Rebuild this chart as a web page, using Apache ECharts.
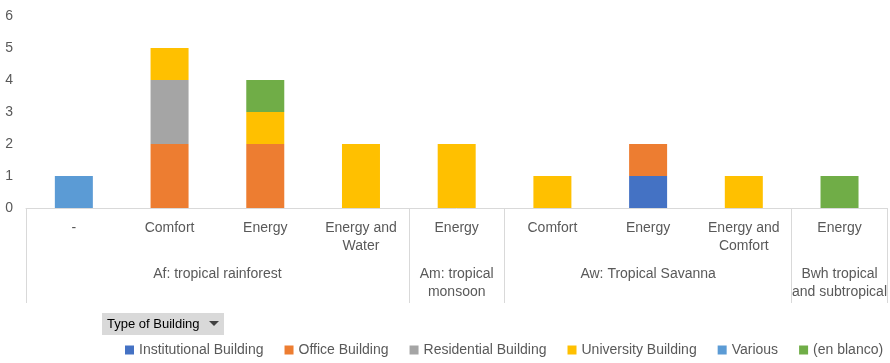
<!DOCTYPE html>
<html><head><meta charset="utf-8">
<script src="https://cdn.jsdelivr.net/npm/echarts@6/dist/echarts.min.js"></script>
<style>html,body{margin:0;padding:0;background:#fff}#c{width:890px;height:363px}</style>
</head><body><div id="c"></div>
<script>
const categories = ["-", "Comfort", "Energy", "Energy and\nWater", "Energy", "Comfort", "Energy", "Energy and\nComfort", "Energy"];
const groupLabels = ["Af: tropical rainforest", "Am: tropical\nmonsoon", "Aw: Tropical Savanna", "Bwh tropical\nand subtropical"];
const groupCenters = [2, 4.5, 6.5, 8.5];
const groupBounds = [0, 4, 5, 8, 9];
const yTicks = [0, 1, 2, 3, 4, 5, 6];
const institutional = [null, null, null, null, null, null, 1, null, null];
const office = [null, 2, 2, null, null, null, 1, null, null];
const residential = [null, 2, null, null, null, null, null, null, null];
const university = [null, 1, 1, 2, 2, 1, null, 1, null];
const various = [1, null, null, null, null, null, null, null, null];
const enBlanco = [null, null, 1, null, null, null, null, null, 1];

const FONT = 'Liberation Sans';
const TXT = '#595959';
const chart = echarts.init(document.getElementById('c'), null, {renderer: 'canvas'});
function s(name, data, color) {
  return {name, type: 'bar', stack: 'total', data, barWidth: 38, itemStyle: {color}, xAxisIndex: 0};
}
chart.setOption({
  animation: false,
  textStyle: {fontFamily: FONT},
  grid: {left: 26, right: 2, top: 16, bottom: 155, containLabel: false},
  legend: {
    top: 338, left: 120, width: 770, padding: 5, itemWidth: 9, itemHeight: 9, itemGap: 21, icon: 'rect',
    textStyle: {color: TXT, fontSize: 14, fontFamily: FONT},
    data: ['Institutional Building', 'Office Building', 'Residential Building', 'University Building', 'Various', '(en blanco)']
  },
  xAxis: [{
    type: 'category', data: categories,
    axisLine: {lineStyle: {color: '#d9d9d9'}},
    axisTick: {show: false},
    axisLabel: {color: TXT, fontSize: 14, fontFamily: FONT, margin: 11, lineHeight: 18, interval: 0}
  }, {
    type: 'value', min: 0, max: 9, position: 'bottom',
    axisLine: {show: false},
    splitLine: {show: false},
    axisTick: {show: true, customValues: groupBounds, length: 95, lineStyle: {color: '#d9d9d9'}},
    axisLabel: {customValues: groupCenters, color: TXT, fontSize: 14, fontFamily: FONT, margin: 57, lineHeight: 18,
      formatter: function (v) { const i = groupCenters.indexOf(v); return i >= 0 ? groupLabels[i] : ''; }}
  }],
  yAxis: {
    type: 'value', min: yTicks[0], max: yTicks[yTicks.length - 1], interval: 1,
    splitLine: {show: false}, axisLine: {show: false}, axisTick: {show: false},
    axisLabel: {color: TXT, fontSize: 14, fontFamily: FONT, margin: 13}
  },
  graphic: [{
    type: 'group', left: 102, top: 313,
    children: [
      {type: 'rect', shape: {x: 0, y: 0, width: 122, height: 22}, style: {fill: '#d9d9d9'}},
      {type: 'text', x: 5, y: 11, style: {text: 'Type of Building', fill: '#000', font: '13px Liberation Sans', verticalAlign: 'middle'}},
      {type: 'polygon', shape: {points: [[107, 8], [117, 8], [112, 13]]}, style: {fill: '#404040'}}
    ]
  }],
  series: [
    s('Institutional Building', institutional, '#4472C4'),
    s('Office Building', office, '#ED7D31'),
    s('Residential Building', residential, '#A5A5A5'),
    s('University Building', university, '#FFC000'),
    s('Various', various, '#5B9BD5'),
    s('(en blanco)', enBlanco, '#70AD47')
  ]
});
</script></body></html>
